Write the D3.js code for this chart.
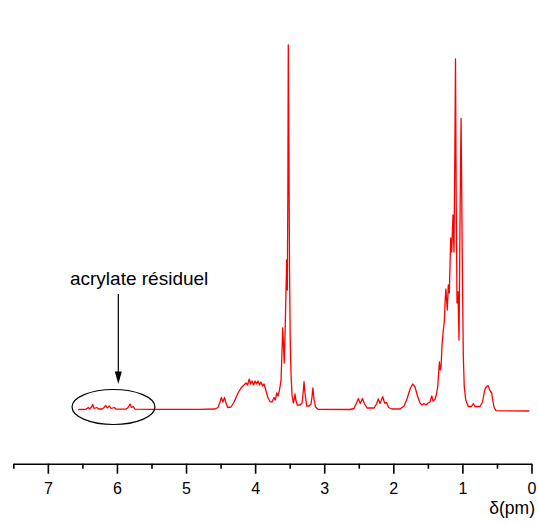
<!DOCTYPE html>
<html>
<head>
<meta charset="utf-8">
<script src="https://cdn.jsdelivr.net/npm/d3@7"></script>
<style>
  html, body { margin: 0; padding: 0; background: #fff; }
  svg { display: block; }
  text { font-family: "Liberation Sans", Arial, sans-serif; }
</style>
</head>
<body>
<svg id="chart" width="538" height="525"></svg>
<script>
// chemical shift (ppm)
const shifts = [
  6.559, 6.447, 6.414, 6.397, 6.368, 6.350, 6.331, 6.292, 6.266, 6.216,
  6.187, 6.162, 6.139, 6.110, 6.085, 6.038, 6.013, 5.868, 5.839, 5.810,
  5.789, 5.763, 5.738, 5.521, 4.797, 4.580, 4.537, 4.508, 4.489, 4.467,
  4.443, 4.421, 4.397, 4.349, 4.305, 4.247, 4.204, 4.161, 4.132, 4.110,
  4.084, 4.067, 4.045, 4.023, 4.001, 3.980, 3.958, 3.936, 3.915, 3.893,
  3.871, 3.842, 3.813, 3.784, 3.755, 3.727, 3.709, 3.687, 3.669, 3.647,
  3.625, 3.608, 3.601, 3.589, 3.579, 3.567, 3.553, 3.543, 3.534, 3.527,
  3.520, 3.511, 3.502, 3.492, 3.480, 3.466, 3.447, 3.433, 3.423, 3.411,
  3.389, 3.350, 3.321, 3.304, 3.292, 3.279, 3.253, 3.220, 3.191, 3.177,
  3.164, 3.148, 3.126, 3.090, 2.627, 2.569, 2.533, 2.506, 2.478, 2.446,
  2.417, 2.381, 2.279, 2.243, 2.217, 2.192, 2.153, 2.127, 2.098, 2.069,
  2.019, 1.903, 1.845, 1.802, 1.758, 1.719, 1.686, 1.650, 1.614, 1.585,
  1.556, 1.527, 1.498, 1.469, 1.444, 1.425, 1.397, 1.375, 1.357, 1.346,
  1.333, 1.321, 1.310, 1.295, 1.276, 1.262, 1.249, 1.239, 1.229, 1.219,
  1.204, 1.190, 1.169, 1.155, 1.136, 1.122, 1.109, 1.100, 1.090, 1.078,
  1.064, 1.049, 1.032, 1.019, 1.009, 0.999, 0.987, 0.973, 0.952, 0.915,
  0.868, 0.842, 0.818, 0.745, 0.709, 0.683, 0.666, 0.640, 0.625, 0.611,
  0.598, 0.576, 0.562, 0.543, 0.514, 0.311, 0.032
];
// intensity (a.u.)
const intensities = [
  1.5, 1.7, 3.5, 2, 4, 6.5, 2.5, 3.5, 2, 2,
  3.5, 5.5, 3, 5, 2.5, 3.5, 1.8, 1.8, 3.5, 7,
  3.5, 4.5, 1.8, 1.7, 1.7, 2, 3.5, 9, 13.5, 9,
  13.5, 8, 3.5, 4, 9, 18, 23, 26, 28, 26,
  32, 27, 30, 26, 30, 27, 30, 26, 29, 25,
  27, 20, 13, 9.3, 9, 13.5, 11, 18, 15, 21,
  31, 66, 83, 66, 48, 76, 121, 151, 121, 211,
  366, 261, 141, 71, 36, 16, 8, 12, 17, 11,
  6, 6, 8, 19, 29.3, 18, 5, 5, 7, 14,
  23, 12, 4, 1.7, 1.5, 2.5, 8, 12.5, 7.5, 12.5,
  7, 3, 3, 7, 12, 7.5, 14.3, 8, 8.5, 3.5,
  2, 2, 5, 12, 22, 27, 24, 15, 8, 6,
  7.5, 6, 8, 9, 15, 10, 11.5, 17, 24.3, 36,
  49, 41, 43, 66, 81, 89.3, 111, 122, 111, 101,
  126, 118, 173, 159, 196, 159, 261, 352, 211, 108,
  119.3, 71, 211, 292.7, 211, 131, 55, 24.3, 11, 4.5,
  4.5, 7.5, 4.5, 4.5, 9, 19, 23, 25, 25.2, 22,
  20, 18, 11, 4, 0.4, 0.2, 0
];
const majorTicks = [7, 6, 5, 4, 3, 2, 1, 0];
const minorTicks = [7.5, 6.5, 5.5, 4.5, 3.5, 2.5, 1.5, 0.5];
const axisTitle = "δ(pm)";
const annotationText = "acrylate résiduel";

const svg = d3.select("#chart");
const x = d3.scaleLinear().domain([7.5, 0]).range([13.3, 531.5]);
const y = d3.scaleLinear().domain([0, 366]).range([411, 45]);
const axisY = 463.7;

const data = shifts.map((s, i) => ({ s, v: intensities[i] }));

// spectrum
svg.append("path")
  .datum(data)
  .attr("fill", "none")
  .attr("stroke", "#ff0000")
  .attr("stroke-width", 1.3)
  .attr("stroke-linejoin", "round")
  .attr("d", d3.line().x(d => x(d.s)).y(d => y(d.v)));

// axis: minor ticks
const minorAxis = svg.append("g")
  .attr("transform", `translate(0,${axisY})`)
  .call(d3.axisBottom(x).tickValues(minorTicks).tickSize(5).tickSizeOuter(0).tickFormat(""));
minorAxis.select(".domain").remove();
minorAxis.selectAll(".tick line").attr("stroke", "#000").attr("stroke-width", 1.6);

// axis: major ticks
const majorAxis = svg.append("g")
  .attr("transform", `translate(0,${axisY})`)
  .call(d3.axisBottom(x).tickValues(majorTicks).tickSize(10).tickSizeOuter(0).tickPadding(9).tickFormat(d3.format("d")));
majorAxis.select(".domain").attr("stroke", "#000").attr("stroke-width", 1.6);
majorAxis.selectAll(".tick line").attr("stroke", "#000").attr("stroke-width", 1.6);
majorAxis.selectAll(".tick text")
  .attr("fill", "#000")
  .style("font-family", "'Liberation Sans', Arial, sans-serif")
  .style("font-size", "16px");

svg.append("text")
  .attr("x", 535)
  .attr("y", 513.5)
  .attr("text-anchor", "end")
  .attr("font-size", 17.5)
  .attr("fill", "#000")
  .text(axisTitle);

// annotation
const annPpm = 5.98;
svg.append("text")
  .attr("x", x(6.68))
  .attr("y", y(126))
  .attr("font-size", 19)
  .attr("fill", "#000")
  .text(annotationText);

svg.append("line")
  .attr("x1", x(annPpm)).attr("x2", x(annPpm))
  .attr("y1", y(117)).attr("y2", y(39))
  .attr("stroke", "#000").attr("stroke-width", 1.2);

svg.append("path")
  .attr("d", d3.line()([
    [x(annPpm) - 3.5, y(39.5)],
    [x(annPpm) + 3.5, y(39.5)],
    [x(annPpm), y(27)]
  ]) + "Z")
  .attr("fill", "#000");

svg.append("ellipse")
  .attr("cx", x(6.05))
  .attr("cy", y(4))
  .attr("rx", x(5.45) - x(6.05))
  .attr("ry", 17.5)
  .attr("fill", "none")
  .attr("stroke", "#000")
  .attr("stroke-width", 1.2);
</script>
</body>
</html>
